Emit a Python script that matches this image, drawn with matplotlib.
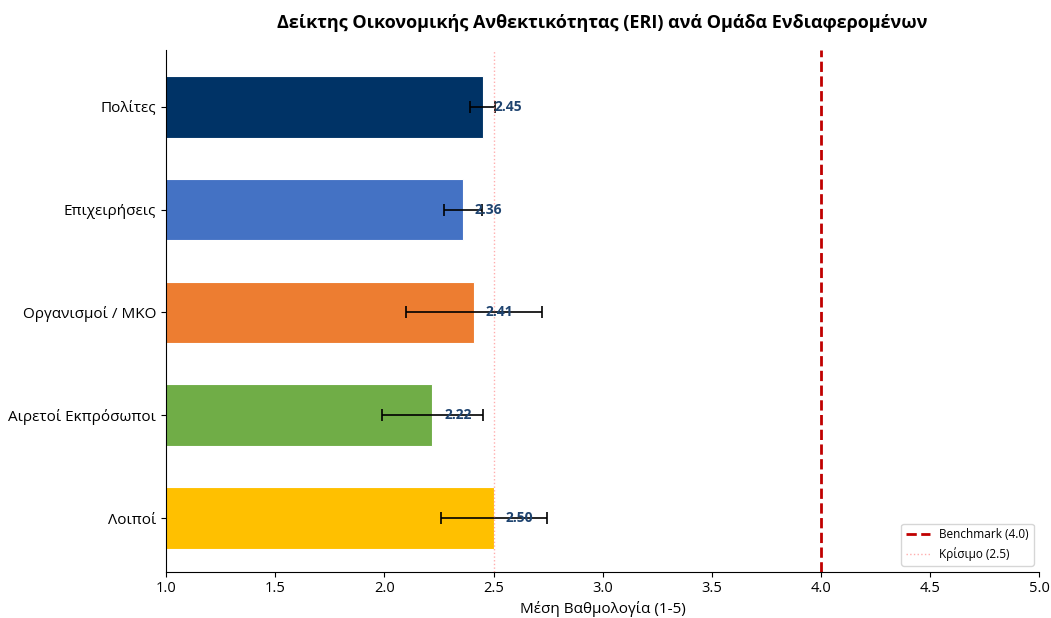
import matplotlib
matplotlib.use('Agg')
import matplotlib.pyplot as plt
import numpy as np

plt.rcParams['font.family'] = ['Open Sans', 'DejaVu Sans']

groups = ['Πολίτες', 'Επιχειρήσεις', 'Οργανισμοί / ΜΚΟ', 'Αιρετοί Εκπρόσωποι', 'Λοιποί']
eri = [2.45, 2.36, 2.41, 2.22, 2.50]
err = [0.057, 0.085, 0.31, 0.23, 0.243]
colors = ['#003366', '#4472C4', '#ED7D31', '#70AD47', '#FFC000']
benchmark = 4.0
critical = 2.5

fig = plt.figure(figsize=(10.51, 6.18), dpi=100)
ax = fig.add_axes([0.158, 0.075, 0.831, 0.844])

y = np.arange(len(groups))
ax.barh(y, eri, height=0.6, color=colors, edgecolor='white', linewidth=0.8,
        xerr=err, capsize=4, error_kw={'ecolor': 'black', 'elinewidth': 1.2, 'capthick': 1.2})

for yi, v in zip(y, eri):
    ax.text(v + 0.055, yi, f'{v:.2f}', va='center', ha='left', fontsize=10,
            fontweight='bold', color='#1F4470')

ax.axvline(benchmark, color='#C00000', linestyle='--', linewidth=2, label='Benchmark (4.0)')
ax.axvline(critical, color='#FF9999', linestyle=':', linewidth=1, alpha=0.8, label='Κρίσιμο (2.5)')

ax.set_yticks(y)
ax.set_yticklabels(groups, fontsize=11)
ax.set_ylim(4.52, -0.55)
ax.set_xlim(1, 5)
ax.set_xticks(np.arange(1.0, 5.01, 0.5))
ax.tick_params(axis='x', labelsize=10.5)
ax.set_xlabel('Μέση Βαθμολογία (1-5)', fontsize=11, labelpad=3)
ax.set_title('Δείκτης Οικονομικής Ανθεκτικότητας (ERI) ανά Ομάδα Ενδιαφερομένων',
             fontsize=13, fontweight='bold', pad=16)

ax.spines['right'].set_color('None')
ax.spines['top'].set_color('None')

ax.legend(loc='lower right', fontsize=8.5)

fig.savefig('out.png', dpi=100)
